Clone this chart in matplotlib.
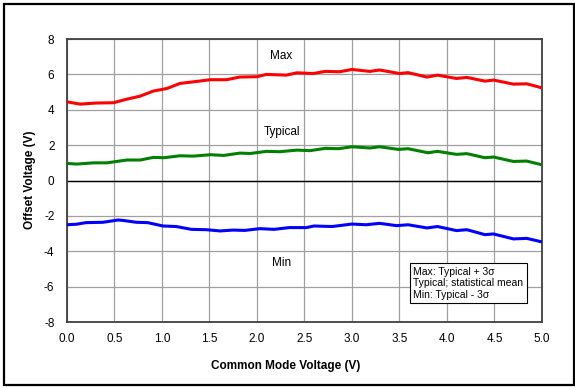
import matplotlib
matplotlib.use("Agg")
import matplotlib.pyplot as plt
from matplotlib.patches import Rectangle

plt.rcParams['font.family'] = ['Liberation Sans', 'DejaVu Sans']

# data (x in V, y in V)
max_x = [0, 0.14, 0.3, 0.49, 0.63, 0.77, 0.91, 1.05, 1.19, 1.33, 1.51, 1.68, 1.82,
         2.0, 2.1, 2.31, 2.42, 2.59, 2.72, 2.87, 3.0, 3.19, 3.29, 3.5, 3.59, 3.79,
         3.9, 4.1, 4.21, 4.4, 4.49, 4.7, 4.84, 5.0]
max_y = [4.45, 4.32, 4.38, 4.40, 4.6, 4.77, 5.06, 5.2, 5.49, 5.58, 5.7, 5.7, 5.85,
         5.87, 6.0, 5.96, 6.09, 6.05, 6.17, 6.15, 6.28, 6.17, 6.25, 6.05, 6.1, 5.85,
         5.96, 5.77, 5.83, 5.62, 5.68, 5.45, 5.47, 5.24]

typ_x = [0, 0.1, 0.28, 0.42, 0.63, 0.77, 0.91, 1.02, 1.19, 1.33, 1.51, 1.65, 1.82,
         1.93, 2.1, 2.24, 2.42, 2.56, 2.72, 2.86, 3.0, 3.19, 3.29, 3.49, 3.59, 3.8,
         3.9, 4.1, 4.21, 4.4, 4.49, 4.7, 4.84, 5.0]
typ_y = [0.97, 0.93, 1.0, 1.0, 1.16, 1.16, 1.31, 1.29, 1.4, 1.38, 1.46, 1.42, 1.55,
         1.53, 1.65, 1.63, 1.72, 1.69, 1.82, 1.8, 1.91, 1.84, 1.91, 1.76, 1.8, 1.57,
         1.65, 1.48, 1.52, 1.29, 1.33, 1.08, 1.1, 0.89]

min_x = [0, 0.1, 0.2, 0.38, 0.54, 0.61, 0.73, 0.85, 1.01, 1.15, 1.31, 1.47, 1.61,
         1.75, 1.87, 2.03, 2.18, 2.34, 2.52, 2.6, 2.79, 3.0, 3.15, 3.29, 3.47, 3.59,
         3.79, 3.9, 4.1, 4.21, 4.4, 4.49, 4.7, 4.84, 5.0]
min_y = [-2.5, -2.47, -2.38, -2.36, -2.23, -2.27, -2.36, -2.38, -2.57, -2.6, -2.76,
         -2.78, -2.85, -2.8, -2.82, -2.72, -2.76, -2.66, -2.66, -2.57, -2.6, -2.46,
         -2.5, -2.42, -2.55, -2.5, -2.68, -2.6, -2.83, -2.78, -3.06, -3.02, -3.3,
         -3.27, -3.47]

x_ticks = [0.0, 0.5, 1.0, 1.5, 2.0, 2.5, 3.0, 3.5, 4.0, 4.5, 5.0]
y_ticks = [-8, -6, -4, -2, 0, 2, 4, 6, 8]

note = "Max: Typical + 3\u03c3\nTypical; statistical mean\nMin: Typical - 3\u03c3"

fig = plt.figure(figsize=(5.75, 3.88), dpi=100)
ax = fig.add_axes([0.1165, 0.170, 0.826, 0.7294])

# outer frame around the whole picture
fig.patches.append(Rectangle((4 / 575, 3 / 388), 570 / 575, 381 / 388,
                             transform=fig.transFigure, fill=False,
                             edgecolor='black', linewidth=1.6))

ax.set_xlim(0, 5)
ax.set_ylim(-8, 8)
ax.set_xticks(x_ticks)
ax.set_xticklabels([f"{t:.1f}" for t in x_ticks])
ax.set_yticks(y_ticks)
ax.set_yticklabels([str(t) for t in y_ticks])
ax.tick_params(length=0, labelsize=8.5)
ax.tick_params(axis='x', pad=8)
ax.tick_params(axis='y', pad=9)

ax.grid(True, color='#a0a0a0', linewidth=0.9)
ax.set_axisbelow(True)
ax.axhline(0, color='black', linewidth=1.0, zorder=1.5)
for s in ax.spines.values():
    s.set_color('#404040')
    s.set_linewidth(1.3)

ax.plot(max_x, max_y, color='#ff0000', linewidth=2.2, zorder=3)
ax.plot(typ_x, typ_y, color='#008000', linewidth=2.2, zorder=3)
ax.plot(min_x, min_y, color='#0000ff', linewidth=2.2, zorder=3)

label_box = dict(facecolor='white', edgecolor='none', pad=1.5)
ax.text(2.25, 7.03, "Max", fontsize=8.5, ha='center', va='center', bbox=label_box)
ax.text(2.26, 2.76, "Typical", fontsize=8.5, ha='center', va='center', bbox=label_box)
ax.text(2.26, -4.66, "Min", fontsize=8.5, ha='center', va='center', bbox=label_box)

ax.text(3.645, -4.88, note, fontsize=7.5, ha='left', va='top', linespacing=1.17,
        bbox=dict(facecolor='white', edgecolor='black', linewidth=0.8,
                  boxstyle='square,pad=0.35'), zorder=4)

fig.text(286 / 575, 1 - 366.5 / 388, "Common Mode Voltage (V)", fontsize=8.5,
         fontweight='bold', ha='center', va='center')
fig.text(29.5 / 575, 1 - 180 / 388, "Offset Voltage (V)", fontsize=8.5,
         fontweight='bold', ha='center', va='center', rotation=90)

fig.savefig("out.png", dpi=100)
